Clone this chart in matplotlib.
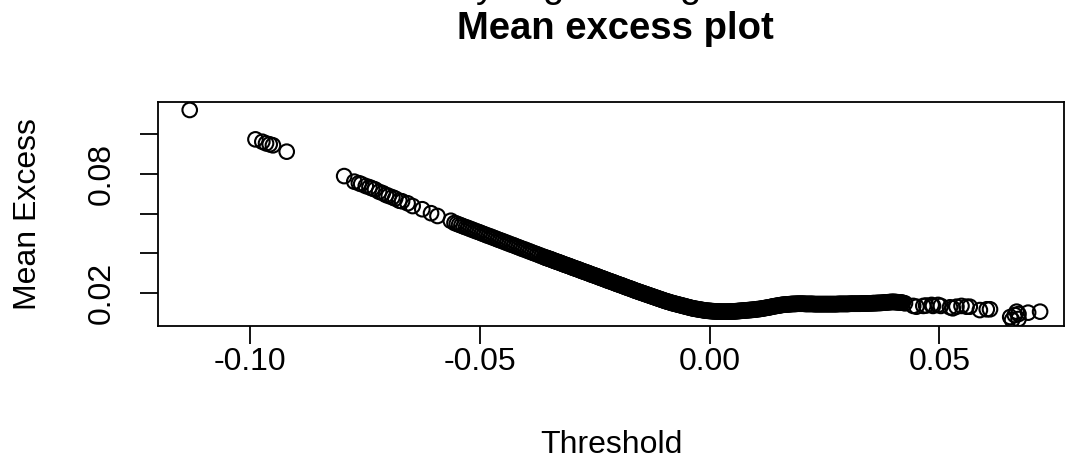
import matplotlib
matplotlib.use("Agg")
import matplotlib.pyplot as plt

plt.rcParams['font.family'] = ['Liberation Sans', 'DejaVu Sans']
plt.rcParams['axes.unicode_minus'] = False

# isolated points at the lowest thresholds
left_x = [-0.1131, -0.0988, -0.0973, -0.0965, -0.0957, -0.0950, -0.0920]
left_y = [0.1122, 0.0974, 0.0962, 0.0954, 0.0949, 0.0944, 0.0912]

# chain of separate circles
chain_x = [-0.0795, -0.0773, -0.0763, -0.0758, -0.0748, -0.0740, -0.0734, -0.0728,
           -0.0719, -0.0711, -0.0704, -0.0698, -0.0690, -0.0684, -0.0675, -0.0669,
           -0.0657, -0.0646, -0.0625, -0.0606, -0.0592, -0.0563]
chain_y = [0.0789, 0.0761, 0.0753, 0.0749, 0.0739, 0.0733, 0.0727, 0.0722,
           0.0710, 0.0703, 0.0694, 0.0689, 0.0682, 0.0676, 0.0665, 0.0662,
           0.0652, 0.0638, 0.0622, 0.0602, 0.0588, 0.0564]

# dense band
band_x = [-0.0555, -0.0550, -0.0545, -0.0540, -0.0535, -0.0530, -0.0525, -0.0520, -0.0515, -0.0510,
          -0.0505, -0.0500, -0.0495, -0.0490, -0.0485, -0.0480, -0.0475, -0.0470, -0.0465, -0.0460,
          -0.0455, -0.0450, -0.0445, -0.0440, -0.0435, -0.0430, -0.0425, -0.0420, -0.0415, -0.0410,
          -0.0405, -0.0400, -0.0395, -0.0390, -0.0385, -0.0380, -0.0375, -0.0370,
          -0.0365, -0.0360, -0.0355, -0.0350, -0.0345, -0.0340, -0.0335, -0.0330, -0.0325, -0.0320,
          -0.0315, -0.0310, -0.0305, -0.0300, -0.0295, -0.0290, -0.0285, -0.0280, -0.0275, -0.0270,
          -0.0265, -0.0260, -0.0255, -0.0250, -0.0245, -0.0240, -0.0235, -0.0230, -0.0225, -0.0220,
          -0.0215, -0.0210, -0.0205, -0.0200, -0.0195, -0.0190, -0.0185, -0.0180, -0.0175, -0.0170,
          -0.0165, -0.0160, -0.0155,
          -0.0150, -0.0145, -0.0140, -0.0135, -0.0130, -0.0125, -0.0120, -0.0115, -0.0110, -0.0105,
          -0.0100, -0.0095, -0.0090, -0.0085, -0.0080,
          -0.0075, -0.0070, -0.0065, -0.0060, -0.0055, -0.0050, -0.0045, -0.0040, -0.0035, -0.0030,
          -0.0025, -0.0020, -0.0015, -0.0010,
          -0.0005, 0.0000, 0.0005, 0.0010, 0.0015, 0.0020, 0.0025, 0.0030, 0.0035, 0.0040, 0.0045,
          0.0050, 0.0055, 0.0060, 0.0065, 0.0070, 0.0075, 0.0080, 0.0085, 0.0090, 0.0095,
          0.0100, 0.0105, 0.0110, 0.0115, 0.0120,
          0.0125, 0.0130, 0.0135, 0.0140, 0.0145, 0.0150, 0.0155, 0.0160,
          0.0165, 0.0170, 0.0175, 0.0180, 0.0185, 0.0190, 0.0195, 0.0200,
          0.0205, 0.0210, 0.0215, 0.0220, 0.0225, 0.0230, 0.0235, 0.0240, 0.0245, 0.0250,
          0.0255, 0.0260, 0.0265, 0.0270,
          0.0275, 0.0280, 0.0285, 0.0290, 0.0295, 0.0300, 0.0305, 0.0310, 0.0315, 0.0320,
          0.0325, 0.0330, 0.0335, 0.0340,
          0.0345, 0.0350, 0.0355, 0.0360, 0.0365, 0.0370, 0.0375, 0.0380, 0.0385, 0.0390,
          0.0395, 0.0400, 0.0405, 0.0410, 0.0415, 0.0420]
band_y = [0.0553, 0.0549, 0.0544, 0.0540, 0.0535, 0.0531, 0.0527, 0.0522, 0.0518, 0.0513,
          0.0509, 0.0505, 0.0500, 0.0496, 0.0491, 0.0487, 0.0483, 0.0478, 0.0474, 0.0469,
          0.0465, 0.0461, 0.0456, 0.0452, 0.0447, 0.0443, 0.0439, 0.0434, 0.0430, 0.0425,
          0.0421, 0.0417, 0.0412, 0.0408, 0.0403, 0.0399, 0.0395, 0.0390,
          0.0386, 0.0381, 0.0377, 0.0373, 0.0369, 0.0364, 0.0360, 0.0356, 0.0352, 0.0347,
          0.0343, 0.0339, 0.0335, 0.0330, 0.0326, 0.0322, 0.0318, 0.0313, 0.0309, 0.0305,
          0.0301, 0.0296, 0.0292, 0.0288, 0.0284, 0.0279, 0.0275, 0.0271, 0.0266, 0.0262,
          0.0258, 0.0254, 0.0249, 0.0245, 0.0241, 0.0237, 0.0232, 0.0228, 0.0224, 0.0220,
          0.0215, 0.0211, 0.0207,
          0.0203, 0.0199, 0.0195, 0.0191, 0.0187, 0.0183, 0.0179, 0.0175, 0.0171, 0.0167,
          0.0163, 0.0159, 0.0156, 0.0152, 0.0149,
          0.0146, 0.0143, 0.0140, 0.0137, 0.0134, 0.0131, 0.0128, 0.0125, 0.0122, 0.0120,
          0.0118, 0.0116, 0.0114, 0.0112,
          0.0111, 0.0110, 0.0109, 0.0108, 0.0107, 0.0107, 0.0106, 0.0106, 0.0106, 0.0106, 0.0107,
          0.0107, 0.0108, 0.0109, 0.0110, 0.0111, 0.0112, 0.0113, 0.0114, 0.0115, 0.0116,
          0.0117, 0.0119, 0.0120, 0.0122, 0.0124,
          0.0126, 0.0128, 0.0131, 0.0133, 0.0135, 0.0137, 0.0139, 0.0141,
          0.0142, 0.0143, 0.0144, 0.0145, 0.0145, 0.0146, 0.0146, 0.0146,
          0.0146, 0.0145, 0.0145, 0.0145, 0.0145, 0.0144, 0.0144, 0.0144, 0.0144, 0.0144,
          0.0144, 0.0144, 0.0144, 0.0144,
          0.0144, 0.0145, 0.0145, 0.0145, 0.0145, 0.0145, 0.0146, 0.0146, 0.0146, 0.0146,
          0.0146, 0.0147, 0.0147, 0.0147,
          0.0148, 0.0148, 0.0149, 0.0149, 0.0150, 0.0150, 0.0151, 0.0152, 0.0153, 0.0154,
          0.0155, 0.0155, 0.0154, 0.0153, 0.0152, 0.0151]

# further thresholds where the band is packed solid
fill_x = [-0.03575, -0.03525, -0.03475, -0.03425, -0.03375, -0.03325, -0.03275, -0.03225, -0.03175, -0.03125,
          -0.03075, -0.03025, -0.02975, -0.02925, -0.02875, -0.02825, -0.02775, -0.02725, -0.02675, -0.02625,
          -0.02575, -0.02525, -0.02475, -0.02425, -0.02375, -0.02325, -0.02275, -0.02225, -0.02175, -0.02125,
          -0.02075, -0.02025, -0.01975, -0.01925, -0.01875, -0.01825, -0.01775, -0.01725, -0.01675, -0.01625,
          -0.01575, -0.01525, -0.01475, -0.01425, -0.01375, -0.01325, -0.01275, -0.01225, -0.01175, -0.01125,
          -0.01075, -0.01025, -0.00975, -0.00925, -0.00875, -0.00825, -0.00775, -0.00725, -0.00675, -0.00625,
          -0.00575, -0.00525, -0.00475, -0.00425, -0.00375, -0.00325, -0.00275, -0.00225, -0.00175, -0.00125,
          -0.00075, -0.00025, 0.00025, 0.00075, 0.00125, 0.00175, 0.00225, 0.00275, 0.00325, 0.00375,
          0.00425, 0.00475, 0.00525, 0.00575, 0.00625, 0.00675, 0.00725, 0.00775, 0.00825, 0.00875,
          0.00925, 0.00975, 0.01025, 0.01075, 0.01125, 0.01175, 0.01225, 0.01275, 0.01325, 0.01375,
          0.01425, 0.01475, 0.01525, 0.01575, 0.01625, 0.01675, 0.01725, 0.01775, 0.01825, 0.01875,
          0.01925, 0.01975, 0.02025, 0.02075, 0.02125, 0.02175, 0.02225, 0.02275, 0.02325, 0.02375,
          0.02425, 0.02475, 0.02525, 0.02575, 0.02625, 0.02675, 0.02725, 0.02775, 0.02825, 0.02875,
          0.02925, 0.02975, 0.03025, 0.03075, 0.03125, 0.03175, 0.03225, 0.03275, 0.03325, 0.03375,
          0.03425, 0.03475, 0.03525, 0.03575, 0.03625, 0.03675, 0.03725, 0.03775, 0.03825, 0.03875,
          0.03925, 0.03975, 0.04025, 0.04075, 0.04125, 0.04175]
fill_y = [0.0379, 0.0375, 0.0371, 0.0367, 0.0362, 0.0358, 0.0354, 0.0350, 0.0345, 0.0341,
          0.0337, 0.0333, 0.0328, 0.0324, 0.0320, 0.0316, 0.0311, 0.0307, 0.0303, 0.0299,
          0.0294, 0.0290, 0.0286, 0.0282, 0.0277, 0.0273, 0.0269, 0.0264, 0.0260, 0.0256,
          0.0252, 0.0247, 0.0243, 0.0239, 0.0235, 0.0230, 0.0226, 0.0222, 0.0218, 0.0213,
          0.0209, 0.0205, 0.0201, 0.0197, 0.0193, 0.0189, 0.0185, 0.0181, 0.0177, 0.0173,
          0.0169, 0.0165, 0.0161, 0.0157, 0.0154, 0.0150, 0.0147, 0.0144, 0.0141, 0.0138,
          0.0135, 0.0132, 0.0129, 0.0126, 0.0123, 0.0121, 0.0119, 0.0117, 0.0115, 0.0113,
          0.0111, 0.0110, 0.0109, 0.0108, 0.0107, 0.0107, 0.0106, 0.0106, 0.0106, 0.0106,
          0.0106, 0.0107, 0.0107, 0.0108, 0.0109, 0.0110, 0.0111, 0.0112, 0.0113, 0.0114,
          0.0115, 0.0116, 0.0118, 0.0119, 0.0121, 0.0123, 0.0125, 0.0127, 0.0129, 0.0132,
          0.0134, 0.0136, 0.0138, 0.0140, 0.0141, 0.0142, 0.0143, 0.0144, 0.0145, 0.0145,
          0.0146, 0.0146, 0.0146, 0.0145, 0.0145, 0.0145, 0.0145, 0.0144, 0.0144, 0.0144,
          0.0144, 0.0144, 0.0144, 0.0144, 0.0144, 0.0144, 0.0144, 0.0144, 0.0145, 0.0145,
          0.0145, 0.0145, 0.0145, 0.0146, 0.0146, 0.0146, 0.0146, 0.0146, 0.0147, 0.0147,
          0.0147, 0.0148, 0.0148, 0.0149, 0.0149, 0.0150, 0.0150, 0.0151, 0.0152, 0.0153,
          0.0154, 0.0155, 0.0155, 0.0154, 0.0153, 0.0152]

# sparse points at the highest thresholds
right_x = [0.0425, 0.0443, 0.0450, 0.0465, 0.0471, 0.0483, 0.0486, 0.0497, 0.0503,
           0.0523, 0.0529, 0.0537, 0.0548, 0.0559, 0.0566, 0.0588, 0.0603, 0.0610,
           0.0654, 0.0658, 0.0664, 0.0668, 0.0672, 0.0672, 0.0693, 0.0719]
right_y = [0.0148, 0.0135, 0.0131, 0.0135, 0.0137, 0.0140, 0.0135, 0.0140, 0.0135,
           0.0128, 0.0123, 0.0131, 0.0135, 0.0131, 0.0131, 0.0114, 0.0118, 0.0118,
           0.0079, 0.0064, 0.0089, 0.0106, 0.0094, 0.0069, 0.0101, 0.0106]

x_ticks = [-0.10, -0.05, 0.00, 0.05]
x_labels = ['-0.10', '-0.05', '0.00', '0.05']
y_ticks = [0.02, 0.04, 0.06, 0.08, 0.10]
y_labels = ['0.02', '', '', '0.08', '']

threshold = left_x + chain_x + band_x + fill_x + right_x
mean_excess = left_y + chain_y + band_y + fill_y + right_y

fig = plt.figure(figsize=(10.65, 4.76), dpi=100)
ax = fig.add_axes([158 / 1065, 150 / 476, 906 / 1065, 224 / 476])

ax.scatter(threshold, mean_excess, s=110, facecolors='none',
           edgecolors='black', linewidths=1.5)

ax.set_xlim(-0.1200, 0.0771)
ax.set_ylim(0.00338, 0.11622)
ax.set_xticks(x_ticks)
ax.set_xticklabels(x_labels)
ax.set_yticks(y_ticks)
ax.set_yticklabels(y_labels)

for sp in ax.spines.values():
    sp.set_linewidth(1.3)
ax.tick_params(direction='out', length=13, width=1.3, labelsize=23, color='black')
ax.tick_params(axis='x', pad=2)
ax.tick_params(axis='y', pad=17, labelrotation=90)
for lab in ax.get_yticklabels():
    lab.set_va('center')

fig.text(611 / 1065, 1 - 445 / 476, 'Threshold', fontsize=23, ha='center', va='center')
fig.text(28 / 1065, 1 - 214 / 476, 'Mean Excess', fontsize=23, rotation=90,
         ha='center', va='center')
fig.text(615 / 1065, 1 - 39.3 / 476, 'Mean excess plot', fontsize=27.5,
         fontweight='bold', ha='center', va='baseline')

# descenders of a line of text cut off by the top edge
for px, ch in [(485, 'y'), (553, 'g'), (690, 'g')]:
    fig.text(px / 1065, 1 + 3 / 476, ch, fontsize=27.5, ha='center', va='baseline')

fig.savefig('out.png', dpi=100)
